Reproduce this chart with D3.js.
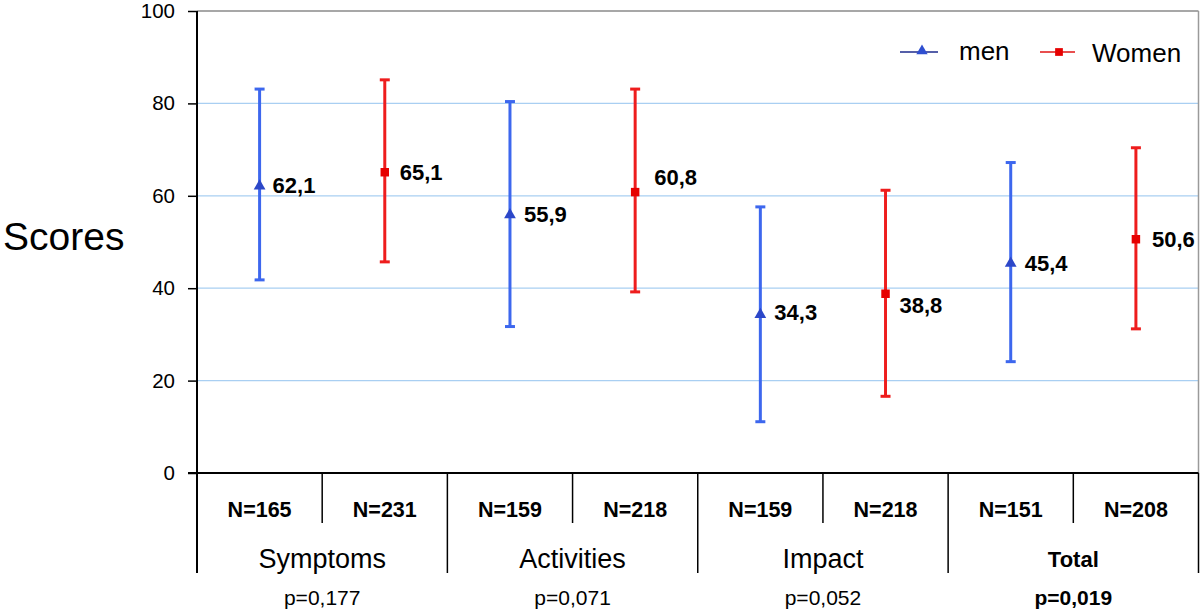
<!DOCTYPE html>
<html>
<head>
<meta charset="utf-8">
<script src="https://cdn.jsdelivr.net/npm/d3@7"></script>
<style>
  html, body { margin: 0; padding: 0; background: #fff; }
  svg { display: block; font-family: "Liberation Sans", Arial, Helvetica, sans-serif; }
</style>
</head>
<body>
<svg id="chart" width="1200" height="609"></svg>
<script>
// ---- data ----
const categories = ["Symptoms", "Activities", "Impact", "Total"];
const groups = ["men", "Women"];
const menMean  = [62.1, 55.9, 34.3, 45.4];
const menLow   = [41.8, 31.7, 11.1, 24.1];
const menHigh  = [83.1, 80.4, 57.6, 67.2];
const womenMean = [65.1, 60.8, 38.8, 50.6];
const womenLow  = [45.7, 39.2, 16.6, 31.2];
const womenHigh = [85.1, 83.1, 61.2, 70.4];
const nMen   = [165, 159, 159, 151];
const nWomen = [231, 218, 218, 208];
const pValues = [0.177, 0.071, 0.052, 0.019];
const yTicks = [0, 20, 40, 60, 80, 100];

// ---- layout (not data) ----
const labelNudgeMen   = [[13, -1], [14, -1], [14, -2], [14, 0]];
const labelNudgeWomen = [[15, 0], [19, -15], [14, 11], [16, 0]];

const colors = { men: "#3d67ee", Women: "#ee1d1d" };
const markerColors = { men: "#2c47c8", Women: "#e60000" };

const svg = d3.select("#chart");
const plotLeft = 197, plotRight = 1198.5, plotTop = 11, plotBottom = 473;

const y = d3.scaleLinear().domain([0, 100]).range([plotBottom, plotTop]);
const xCat = d3.scaleBand().domain(categories).range([plotLeft, plotRight]).padding(0);
const xGrp = d3.scaleBand().domain(groups).range([0, xCat.bandwidth()]).padding(0);

const loc = d3.formatLocale({decimal: ",", thousands: ".", grouping: [3], currency: ["", ""]});
const fmt = loc.format(".1f");
const pfmt = loc.format(".3f");

// gridlines
svg.append("g").selectAll("line")
  .data(yTicks.filter(t => t > 0 && t < 100))
  .join("line")
  .attr("x1", plotLeft).attr("x2", plotRight)
  .attr("y1", d => y(d)).attr("y2", d => y(d))
  .attr("stroke", "#a9cff2").attr("stroke-width", 1.2);

// top and right frame
svg.append("line").attr("x1", plotLeft).attr("x2", plotRight).attr("y1", y(100)).attr("y2", y(100))
  .attr("stroke", "#8a8a8a").attr("stroke-width", 1.5);
svg.append("line").attr("x1", plotRight).attr("x2", plotRight).attr("y1", y(100)).attr("y2", plotBottom)
  .attr("stroke", "#9a9a9a").attr("stroke-width", 1.5);

// y axis
const yAxis = d3.axisLeft(y).tickValues(yTicks).tickSize(9).tickPadding(13).tickFormat(d3.format("d"));
const gy = svg.append("g").attr("transform", `translate(${plotLeft},0)`).call(yAxis);
gy.select(".domain").remove();
gy.selectAll(".tick line").attr("stroke", "#000").attr("stroke-width", 1.5);
gy.selectAll(".tick text").attr("font-size", 20.5).attr("fill", "#000")
  .attr("font-family", "'Liberation Sans', Arial, sans-serif");

// axis lines / table frame
svg.append("line").attr("x1", plotLeft).attr("x2", plotLeft).attr("y1", plotTop).attr("y2", 573)
  .attr("stroke", "#000").attr("stroke-width", 2);
svg.append("line").attr("x1", plotLeft - 9).attr("x2", plotRight).attr("y1", plotBottom).attr("y2", plotBottom)
  .attr("stroke", "#000").attr("stroke-width", 2);
svg.append("line").attr("x1", plotRight).attr("x2", plotRight).attr("y1", plotBottom).attr("y2", 573)
  .attr("stroke", "#000").attr("stroke-width", 1.5);

// dividers
categories.forEach((c, i) => {
  const x0 = xCat(c);
  if (i > 0) {
    svg.append("line").attr("x1", x0).attr("x2", x0).attr("y1", plotBottom).attr("y2", 573)
      .attr("stroke", "#000").attr("stroke-width", 1.5);
  }
  const xm = x0 + xGrp("Women");
  svg.append("line").attr("x1", xm).attr("x2", xm).attr("y1", plotBottom).attr("y2", 523)
    .attr("stroke", "#000").attr("stroke-width", 1.5);
});

// table text
const table = svg.append("g");
categories.forEach((c, i) => {
  const x0 = xCat(c);
  const sig = pValues[i] < 0.05;
  table.append("text").attr("x", x0 + xGrp("men") + xGrp.bandwidth() / 2).attr("y", 517)
    .attr("text-anchor", "middle").attr("font-size", 21.5).attr("font-weight", "bold")
    .text("N=" + nMen[i]);
  table.append("text").attr("x", x0 + xGrp("Women") + xGrp.bandwidth() / 2).attr("y", 517)
    .attr("text-anchor", "middle").attr("font-size", 21.5).attr("font-weight", "bold")
    .text("N=" + nWomen[i]);
  table.append("text").attr("x", x0 + xCat.bandwidth() / 2).attr("y", sig ? 567 : 568)
    .attr("text-anchor", "middle").attr("font-size", sig ? 22 : 27).attr("font-weight", sig ? "bold" : "normal")
    .text(c);
  table.append("text").attr("x", x0 + xCat.bandwidth() / 2).attr("y", 605)
    .attr("text-anchor", "middle").attr("font-size", 21).attr("font-weight", sig ? "bold" : "normal")
    .text("p=" + pfmt(pValues[i]));
});

// error bars
const series = [
  { key: "men", mean: menMean, low: menLow, high: menHigh, nudge: labelNudgeMen, symbol: d3.symbolTriangle, size: 60 },
  { key: "Women", mean: womenMean, low: womenLow, high: womenHigh, nudge: labelNudgeWomen, symbol: d3.symbolSquare, size: 72 }
];

series.forEach(s => {
  const g = svg.append("g");
  const data = categories.map((c, i) => ({
    cx: xCat(c) + xGrp(s.key) + xGrp.bandwidth() / 2,
    mean: s.mean[i], low: s.low[i], high: s.high[i], nudge: s.nudge[i]
  }));
  g.selectAll("line.v").data(data).join("line").attr("class", "v")
    .attr("x1", d => d.cx).attr("x2", d => d.cx)
    .attr("y1", d => y(d.low)).attr("y2", d => y(d.high))
    .attr("stroke", colors[s.key]).attr("stroke-width", 3);
  g.selectAll("line.ct").data(data).join("line").attr("class", "ct")
    .attr("x1", d => d.cx - 5).attr("x2", d => d.cx + 5)
    .attr("y1", d => y(d.high)).attr("y2", d => y(d.high))
    .attr("stroke", colors[s.key]).attr("stroke-width", 3);
  g.selectAll("line.cb").data(data).join("line").attr("class", "cb")
    .attr("x1", d => d.cx - 5).attr("x2", d => d.cx + 5)
    .attr("y1", d => y(d.low)).attr("y2", d => y(d.low))
    .attr("stroke", colors[s.key]).attr("stroke-width", 3);
  g.selectAll("path").data(data).join("path")
    .attr("transform", d => `translate(${d.cx},${y(d.mean)})`)
    .attr("d", d3.symbol().type(s.symbol).size(s.size))
    .attr("fill", markerColors[s.key]);
  g.selectAll("text").data(data).join("text")
    .attr("x", d => d.cx + d.nudge[0]).attr("y", d => y(d.mean) + d.nudge[1])
    .attr("dy", "0.36em").attr("font-size", 22).attr("font-weight", "bold").attr("fill", "#000")
    .text(d => fmt(d.mean));
});

// y title
svg.append("text").attr("x", 3).attr("y", 250).attr("font-size", 39).attr("fill", "#000").text("Scores");

// legend
const leg = svg.append("g");
leg.append("line").attr("x1", 900).attr("x2", 938).attr("y1", 52).attr("y2", 52)
  .attr("stroke", "#1d2a8c").attr("stroke-width", 1.5);
leg.append("path").attr("transform", "translate(922,51)")
  .attr("d", d3.symbol().type(d3.symbolTriangle).size(56)).attr("fill", "#2f4fd0");
leg.append("text").attr("x", 959).attr("y", 60).attr("font-size", 26).text(groups[0]);
leg.append("line").attr("x1", 1040).attr("x2", 1075).attr("y1", 52).attr("y2", 52)
  .attr("stroke", "#e01414").attr("stroke-width", 1.5);
leg.append("path").attr("transform", "translate(1059,52)")
  .attr("d", d3.symbol().type(d3.symbolSquare).size(60)).attr("fill", "#e60000");
leg.append("text").attr("x", 1092).attr("y", 62).attr("font-size", 26).text(groups[1]);
</script>
</body>
</html>
